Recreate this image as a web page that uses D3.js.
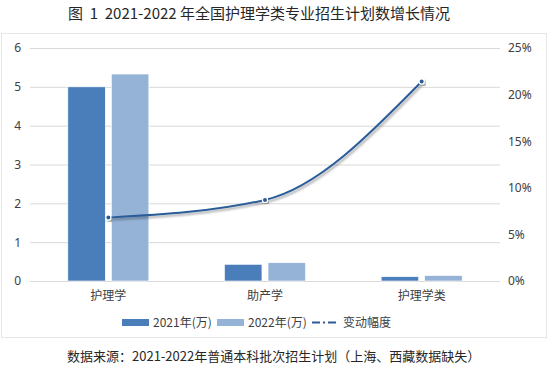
<!DOCTYPE html>
<html>
<head>
<meta charset="utf-8">
<script src="https://cdn.jsdelivr.net/npm/d3@7"></script>
<style>
  body { margin: 0; background: #fff; }
  svg { display: block; font-family: "Noto Sans CJK SC", "Noto Sans", sans-serif; }
</style>
</head>
<body>
<svg id="chart" width="549" height="369"></svg>
<script>
// 数据
const categories = ["护理学", "助产学", "护理学类"];
const seriesNames = ["2021年(万)", "2022年(万)"];
const plan2021 = [5.0, 0.43, 0.11];
const plan2022 = [5.33, 0.47, 0.14];
const change = [6.8, 8.7, 21.4]; // 变动幅度 %
const leftTicks = [0, 1, 2, 3, 4, 5, 6];
const rightTicks = [0, 5, 10, 15, 20, 25];

const colors = ["#4a7ebb", "#95b3d7"];
const lineColor = "#2c5d98";
const textColor = "#404040";

const svg = d3.select("#chart");
const margin = { left: 30, right: 49, top: 48, bottom: 88 };
const W = 549, H = 369;

// 外框
svg.append("rect")
    .attr("x", 1.5).attr("y", 33.5)
    .attr("width", W - 4).attr("height", 304)
    .attr("fill", "none").attr("stroke", "#e6e6e6");

// 标题
svg.append("text")
    .attr("x", 259).attr("y", 19)
    .attr("text-anchor", "middle")
    .attr("font-size", 15)
    .attr("fill", "#262626")
    .style("white-space", "pre")
    .text("图  1  2021-2022 年全国护理学类专业招生计划数增长情况");

const x0 = d3.scaleBand().domain(categories).range([margin.left, W - margin.right]);
const x1 = d3.scaleBand().domain(seriesNames).range([0, 81]).paddingInner(0.14);
const yL = d3.scaleLinear().domain([0, 6]).range([281, 48]);
const yR = d3.scaleLinear().domain([0, 25]).range([281, 48]);

// 网格线
svg.append("g")
    .selectAll("line")
    .data(leftTicks)
    .join("line")
    .attr("x1", margin.left).attr("x2", W - margin.right)
    .attr("y1", d => yL(d) + 0.5).attr("y2", d => yL(d) + 0.5)
    .attr("stroke", "#d9d9d9");

// 左轴
const axisL = svg.append("g")
    .attr("transform", `translate(${margin.left},0)`)
    .call(d3.axisLeft(yL).tickValues(leftTicks).tickSize(0).tickPadding(9).tickFormat(d3.format("d")));
axisL.select(".domain").remove();
axisL.selectAll("text").attr("font-size", 12).attr("fill", textColor)
    .style("font-family", "'Noto Sans', sans-serif");

// 右轴
const axisR = svg.append("g")
    .attr("transform", `translate(${W - margin.right},0)`)
    .call(d3.axisRight(yR).tickValues(rightTicks).tickSize(0).tickPadding(8).tickFormat(d => d + "%"));
axisR.select(".domain").remove();
axisR.selectAll("text").attr("font-size", 12).attr("fill", textColor)
    .style("font-family", "'Noto Sans', sans-serif");

// 柱子
const rows = categories.map((c, i) => ({ cat: c, vals: [plan2021[i], plan2022[i]] }));
const groups = svg.append("g")
    .selectAll("g")
    .data(rows)
    .join("g")
    .attr("transform", d => `translate(${x0(d.cat) + (x0.bandwidth() - 81) / 2},0)`);
groups.selectAll("rect")
    .data(d => d.vals.map((v, j) => ({ name: seriesNames[j], v, j })))
    .join("rect")
    .attr("x", d => x1(d.name))
    .attr("width", x1.bandwidth())
    .attr("y", d => yL(d.v))
    .attr("height", d => yL(0) - yL(d.v))
    .attr("fill", d => colors[d.j])
    .attr("stroke", "#fff").attr("stroke-width", 0.6);

// 分类标签
svg.append("g")
    .selectAll("text")
    .data(categories)
    .join("text")
    .attr("x", d => x0(d) + x0.bandwidth() / 2)
    .attr("y", 300)
    .attr("text-anchor", "middle")
    .attr("font-size", 12)
    .attr("fill", textColor)
    .text(d => d);

// 变动幅度折线
const defs = svg.append("defs");
const f = defs.append("filter").attr("id", "shadow").attr("x", "-20%").attr("y", "-20%").attr("width", "140%").attr("height", "140%");
f.append("feDropShadow").attr("dx", 1.5).attr("dy", 2).attr("stdDeviation", 1.2)
    .attr("flood-color", "#000").attr("flood-opacity", 0.35);

const pts = categories.map((c, i) => [x0(c) + x0.bandwidth() / 2, yR(change[i])]);
const line = d3.line().curve(d3.curveMonotoneX);
svg.append("path")
    .attr("d", line(pts))
    .attr("fill", "none")
    .attr("stroke", lineColor)
    .attr("stroke-width", 2)
    .attr("filter", "url(#shadow)");
svg.append("g")
    .selectAll("circle")
    .data(pts)
    .join("circle")
    .attr("cx", d => d[0]).attr("cy", d => d[1])
    .attr("r", 2.6)
    .attr("fill", lineColor)
    .attr("stroke", "#fff").attr("stroke-width", 1.2)
    .attr("filter", "url(#shadow)");

// 图例
const legend = svg.append("g").attr("font-size", 12).attr("fill", textColor);
const legendItems = [
    { name: seriesNames[0], x: 122, type: "rect", color: colors[0] },
    { name: seriesNames[1], x: 217, type: "rect", color: colors[1] },
    { name: "变动幅度", x: 312, type: "line", color: lineColor }
];
legendItems.forEach(it => {
    if (it.type === "rect") {
        legend.append("rect").attr("x", it.x).attr("y", 319).attr("width", 27).attr("height", 7).attr("fill", it.color);
    } else {
        legend.append("line").attr("x1", it.x).attr("x2", it.x + 27).attr("y1", 322.5).attr("y2", 322.5)
            .attr("stroke", it.color).attr("stroke-width", 2).attr("stroke-dasharray", "8,3,2,3");
    }
    legend.append("text").attr("x", it.x + 31).attr("y", 327).text(it.name);
});

// 数据来源
svg.append("text")
    .attr("x", 67).attr("y", 361)
    .attr("font-size", 13)
    .attr("fill", "#262626")
    .text("数据来源：2021-2022年普通本科批次招生计划（上海、西藏数据缺失）");
</script>
</body>
</html>
